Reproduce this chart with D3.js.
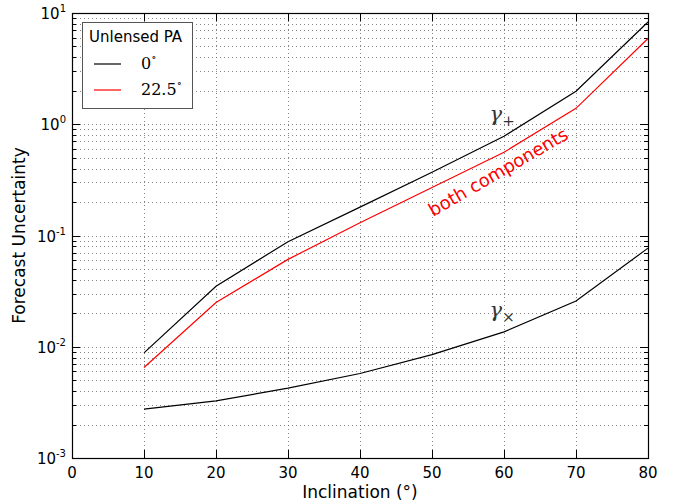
<!DOCTYPE html>
<html>
<head>
<meta charset="utf-8">
<script src="https://cdn.jsdelivr.net/npm/d3@7"></script>
<style>
  body { margin: 0; background: #fff; }
  text { font-family: "DejaVu Sans", sans-serif; }
</style>
</head>
<body>
<div id="container"></div>
<script>
let w = 678;
let h = 504;
let margin = {top: 13, right: 30, bottom: 46, left: 72};

// DATA
let inclination = [10, 20, 30, 40, 50, 60, 70, 80];
let plusZero = [0.0088, 0.035, 0.088, 0.18, 0.37, 0.78, 1.98, 8.3];
let plusTwentyTwo = [0.0065, 0.025, 0.061, 0.13, 0.27, 0.56, 1.39, 5.9];
let crossZero = [0.00275, 0.00326, 0.00424, 0.00575, 0.0085, 0.0136, 0.0258, 0.077];
let xTicks = [0, 10, 20, 30, 40, 50, 60, 70, 80];
let yDecades = [-3, -2, -1, 0, 1];

let viz = d3.select("#container").append("svg")
    .attr("width", w)
    .attr("height", h)
    .style("background-color", "white");

let xScale = d3.scaleLinear().domain([0, 80]).range([margin.left, w - margin.right]);
let yScale = d3.scaleLog().domain([1e-3, 10]).range([h - margin.bottom, margin.top]);

let x0 = xScale(0), x1 = xScale(80), y0 = yScale(1e-3), y1 = yScale(10);

// minor + major y values
let yMinor = [];
for (let e = -3; e < 1; e++) {
  for (let k = 2; k <= 9; k++) yMinor.push(k * Math.pow(10, e));
}
let yMajor = yDecades.map(function(e){ return Math.pow(10, e); });

// GRID
let grid = viz.append("g").attr("stroke", "#666").attr("stroke-width", 0.8)
  .attr("stroke-dasharray", "1,3");
grid.selectAll(".hg").data(yMinor.concat(yMajor.slice(1, 4))).enter()
  .append("line")
    .attr("x1", x0).attr("x2", x1)
    .attr("y1", function(d){ return Math.round(yScale(d)) + 0.5; })
    .attr("y2", function(d){ return Math.round(yScale(d)) + 0.5; });
grid.selectAll(".vg").data(xTicks.slice(1, 8)).enter()
  .append("line")
    .attr("y1", y1).attr("y2", y0)
    .attr("x1", function(d){ return Math.round(xScale(d)) + 0.5; })
    .attr("x2", function(d){ return Math.round(xScale(d)) + 0.5; });

// TICKS (inward, all sides)
let ticks = viz.append("g").attr("stroke", "#000").attr("stroke-width", 1);
yMajor.forEach(function(d){
  let y = Math.round(yScale(d)) + 0.5;
  ticks.append("line").attr("x1", x0).attr("x2", x0 + 8).attr("y1", y).attr("y2", y);
  ticks.append("line").attr("x1", x1).attr("x2", x1 - 8).attr("y1", y).attr("y2", y);
});
yMinor.forEach(function(d){
  let y = Math.round(yScale(d)) + 0.5;
  ticks.append("line").attr("x1", x0).attr("x2", x0 + 4).attr("y1", y).attr("y2", y);
  ticks.append("line").attr("x1", x1).attr("x2", x1 - 4).attr("y1", y).attr("y2", y);
});
xTicks.forEach(function(d){
  let x = Math.round(xScale(d)) + 0.5;
  ticks.append("line").attr("x1", x).attr("x2", x).attr("y1", y0).attr("y2", y0 - 8);
  ticks.append("line").attr("x1", x).attr("x2", x).attr("y1", y1).attr("y2", y1 + 8);
});

// LINES
let lineMaker = d3.line()
  .x(function(d, i){ return xScale(inclination[i]); })
  .y(function(d){ return yScale(d); });

viz.append("path").attr("d", lineMaker(plusZero))
  .attr("fill", "none").attr("stroke", "#000").attr("stroke-width", 1.2);
viz.append("path").attr("d", lineMaker(plusTwentyTwo))
  .attr("fill", "none").attr("stroke", "#ff0000").attr("stroke-width", 1.2);
viz.append("path").attr("d", lineMaker(crossZero))
  .attr("fill", "none").attr("stroke", "#000").attr("stroke-width", 1.2);

// FRAME
viz.append("rect")
  .attr("x", x0 + 0.5).attr("y", y1 + 0.5)
  .attr("width", x1 - x0).attr("height", y0 - y1)
  .attr("fill", "none").attr("stroke", "#000").attr("stroke-width", 1.2);

// TICK LABELS
viz.selectAll(".xl").data(xTicks).enter()
  .append("text")
    .attr("x", function(d){ return xScale(d); })
    .attr("y", y0 + 20)
    .attr("text-anchor", "middle")
    .style("font-size", "15px")
    .text(function(d){ return d; });

yDecades.forEach(function(e){
  let t = viz.append("text")
    .attr("x", x0 - 6)
    .attr("y", yScale(Math.pow(10, e)) + 6)
    .attr("text-anchor", "end")
    .style("font-size", "15px");
  t.append("tspan").text("10");
  t.append("tspan").attr("dy", -7).style("font-size", "10px").text(e);
});

// AXIS TITLES
viz.append("text")
  .attr("x", (x0 + x1) / 2).attr("y", 498)
  .attr("text-anchor", "middle")
  .style("font-size", "17px")
  .text("Inclination (°)");
viz.append("text")
  .attr("transform", "translate(25," + ((y0 + y1) / 2) + ") rotate(-90)")
  .attr("text-anchor", "middle")
  .style("font-size", "17px")
  .text("Forecast Uncertainty");

// ANNOTATIONS
let gp = viz.append("text").attr("x", xScale(58)).attr("y", yScale(1.08))
  .style("font-family", "DejaVu Serif, serif").style("font-size", "21px").attr("fill", "#333");
gp.append("tspan").style("font-style", "italic").text("γ");
gp.append("tspan").attr("dy", 5).style("font-size", "15px").text("+");

let gx = viz.append("text").attr("x", xScale(58)).attr("y", yScale(0.0185))
  .style("font-family", "DejaVu Serif, serif").style("font-size", "21px").attr("fill", "#333");
gx.append("tspan").style("font-style", "italic").text("γ");
gx.append("tspan").attr("dy", 5).style("font-size", "15px").text("×");

viz.append("text")
  .attr("transform", "translate(433,217) rotate(-30)")
  .attr("fill", "#ff0000")
  .style("font-size", "18px")
  .text("both components");

// LEGEND
let lg = viz.append("g");
lg.append("rect").attr("x", 82.5).attr("y", 22.5).attr("width", 110).attr("height", 86)
  .attr("fill", "#fff").attr("stroke", "#555").attr("stroke-width", 1);
lg.append("text").attr("x", 89).attr("y", 42).style("font-size", "15px").text("Unlensed PA");
let legendItems = [{label: "0", color: "#000"}, {label: "22.5", color: "#ff0000"}];
lg.selectAll(".li").data(legendItems).enter()
  .append("line")
    .attr("x1", 94).attr("x2", 121)
    .attr("y1", function(d, i){ return 64 + i * 26; })
    .attr("y2", function(d, i){ return 64 + i * 26; })
    .attr("stroke", function(d){ return d.color; })
    .attr("stroke-width", 1.2);
legendItems.forEach(function(d, i){
  let t = lg.append("text").attr("x", 141).attr("y", 69 + i * 26)
    .style("font-family", "DejaVu Serif, serif").style("font-size", "16px");
  t.append("tspan").text(d.label);
  t.append("tspan").attr("dy", -8).style("font-size", "11px").text("∘");
});
</script>
</body>
</html>
